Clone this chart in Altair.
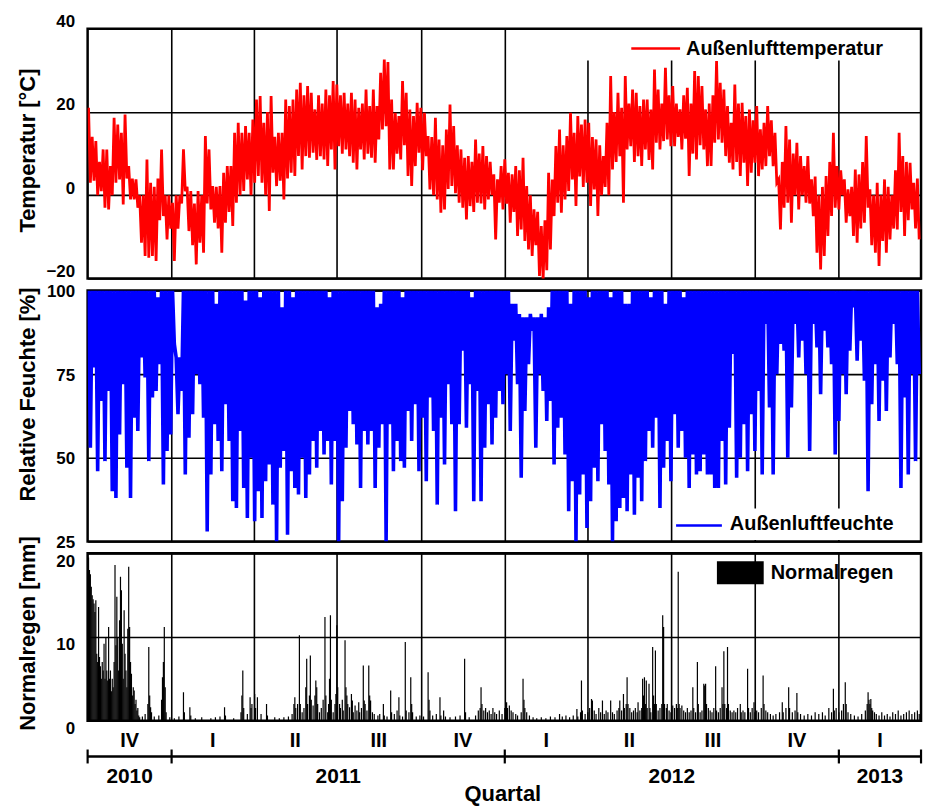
import altair as alt
import pandas as pd

FONT = "Liberation Sans"
STEP_DAYS = 4          # one high and one low reading per 4-day step
N_DAYS = 913           # 2010-10-01 .. 2013-03-31

# ---- Außenlufttemperatur [°C]: per 4-day step, upper and lower reading ----
temp_high = [
    21, 14, 13, 8, 11, 11, 7, 18.6, 17, 15,
    19.4, 7, 4, 3.8, 0, 0, 8.6, 3, 2, 4,
    11, 0, 0, -1.8, 0, 0, 11, 2, 1, -2,
    1, 0, 14.2, 11, 2.2, 2, 2.2, 5.4, 7, 7,
    15, 17.4, 15, 16.6, 15, 18.2, 23, 23.8, 17.4, 20,
    23.8, 14, 15, 15, 23, 21.4, 23, 25.4, 27, 24,
    26.2, 24.6, 20.6, 24, 22, 25.4, 24, 27.4, 26.6, 24,
    24.6, 22, 24.6, 23, 21, 22, 25.4, 21.4, 25.4, 21.4,
    29.4, 32.6, 32, 23, 19.8, 19, 27.4, 24.6, 20.6, 19,
    22.2, 21, 19.8, 14.2, 14, 18.6, 13.4, 12, 15.8, 21.8,
    16.6, 12, 11, 9, 9.4, 8, 13.4, 10, 11.8, 9.4,
    8, 5, 3.8, 7, 8.6, 5.4, 5, 7, 6, 9,
    2.2, 0, -3.4, -4, -7.4, -6, 5.4, 3.8, 11.8, 15.8,
    12, 14.2, 19.8, 15, 19, 17, 18.2, 17.4, 14, 13.4,
    12, 9.4, 17.4, 28.6, 20, 24.6, 21, 28.6, 22, 25.4,
    24.6, 21.4, 23, 23, 20.6, 30.2, 25.4, 22, 30.6, 24,
    26.2, 22, 20.6, 24, 25.8, 22, 29.8, 28.6, 26.2, 20.6,
    22, 24, 32.2, 27, 25.4, 21.4, 17.4, 26.6, 22, 22.2,
    19, 20.6, 18, 21.4, 15.8, 17.4, 21.4, 18, 15, 3.8,
    8, 16.6, 13.4, 10, 12.6, 9.4, 7, 9.4, 3.8, 4.5,
    0, 2, 4.6, 8, 15, 7, 6, 3.8, 1.4, 2,
    6.2, 5, 8, 14.2, 1.4, 0, 3, 0, 3.8, 2,
    0, 6, 15, 9.4, 8, 7.8, 3, 4,
]
temp_low = [
    3, 3.5, 0, 1, -3, -3.4, 0, 3, 3.8, -2.2,
    4, -1, -1, -3, -11.4, -14.6, -15, -14.6, -15.8, -6,
    -5, -10.6, -8, -15.8, -8, -2, 1, -8.6, -12, -16.6,
    -11.4, -13.8, -2, -3.4, -6.6, -8, -13.8, -6.6, -4, -7.4,
    -1.8, 0, 1, 3.8, 0, 3, 4.6, 3, 0, -3.8,
    5.4, 2.2, 3.5, -1, 4, 5.4, 4.6, 9.4, 6.2, 9.4,
    9, 10.2, 8.5, 9.4, 8.6, 7, 11, 6.2, 11.8, 10,
    11, 9.4, 7.8, 6.2, 11, 8.6, 10, 9, 7.8, 13.4,
    15.8, 16.6, 6.2, 6.2, 10, 8.6, 12, 4.6, 2.2, 7,
    10.2, 6, 9.4, 1.4, 0, -1, -4.2, -3.4, 1.5, 2.2,
    0.5, -1.8, -3, -5.8, -2.6, -4, -1.8, -2, -3.4, -1,
    0, -10.6, -1.8, -3.4, -2, -6.6, -4, -9.8, -8.2, -11,
    -13, -14.6, -12, -19.4, -20.2, -18, -13, -5, -1.8, -4.2,
    -1, 1, 3.8, -2.6, 4.5, 2, 3, -2.6, 1.4, -5,
    0, 2, 0, 6.2, 8, 9.4, -1.8, 11, 11.8, 8,
    9.4, 7, 11, 8.5, 6.2, 12.6, 11, 13, 13.4, 11.8,
    11.8, 14, 11, 13.6, 4.6, 10, 8.6, 12, 11, 7,
    7, 12.6, 13.4, 12.6, 9.4, 7.8, 6.2, 8, 4.6, 7.8,
    2.2, 5.4, 7.8, 4.6, 6.2, 7, 9.4, 7, 3, -8.2,
    -3, -1.8, -6.6, 0, -3.4, 0, -1.8, -2, -5, -13.8,
    -17.8, -14.6, -9.8, -5, -3, -3.4, 0, -6.6, -5, -9.8,
    -11.4, -8, -6.6, -3, -12, -13.8, -17, -11, -13.8, -10.6,
    -8, -8.2, -4, -9.8, -6, -3.4, -8, -10.6,
]

# ---- Außenluftfeuchte [%]: per 4-day step, upper and lower reading ----
hum_high = [
    100, 100, 100, 100, 100, 100, 100, 100, 100, 100,
    100, 100, 100, 100, 100, 100, 100, 100, 100, 98,
    100, 100, 100, 100, 80, 80, 100, 100, 100, 100,
    100, 100, 100, 100, 100, 96, 100, 100, 100, 100,
    100, 100, 100, 97, 100, 100, 100, 98, 100, 100,
    100, 100, 100, 95, 100, 100, 98, 100, 100, 100,
    100, 100, 100, 100, 100, 100, 98, 100, 100, 100,
    100, 100, 100, 100, 100, 100, 100, 100, 100, 95,
    96, 100, 100, 100, 100, 100, 98, 100, 100, 100,
    100, 100, 100, 100, 100, 100, 100, 100, 100, 100,
    100, 100, 100, 100, 100, 98, 100, 100, 100, 100,
    100, 100, 100, 100, 100, 100, 96, 96, 93, 92,
    92, 93, 92, 92, 93, 92, 95, 100, 100, 100,
    100, 100, 96, 100, 100, 100, 100, 98, 100, 100,
    100, 100, 100, 98, 100, 100, 100, 96, 96, 100,
    100, 100, 100, 100, 98, 100, 100, 100, 96, 100,
    100, 100, 100, 98, 100, 100, 100, 100, 100, 100,
    100, 100, 100, 100, 100, 100, 100, 100, 100, 100,
    100, 100, 100, 100, 100, 100, 100, 100, 100, 100,
    100, 100, 100, 100, 100, 100, 100, 100, 100, 100,
    100, 100, 100, 100, 100, 100, 100, 100, 100, 100,
    100, 100, 100, 100, 100, 100, 100, 100, 100, 100,
    100, 100, 100, 100, 100, 100, 100, 100,
]
hum_low = [
    53, 77, 46, 67, 49, 70, 40, 38, 57, 72,
    47, 38, 62, 58, 80, 74, 49, 68, 70, 78,
    42, 52, 57, 84, 63, 70, 45, 56, 63, 75,
    72, 62, 28, 45, 60, 55, 46, 66, 55, 37,
    35, 58, 41, 32, 50, 31, 40, 32, 43, 48,
    36, 25, 47, 52, 27, 46, 41, 39, 50, 38,
    45, 55, 47, 58, 51, 55, 42, 55, 25, 37,
    53, 64, 60, 54, 41, 58, 54, 58, 41, 53,
    60, 25, 60, 46, 55, 49, 47, 64, 55, 66,
    46, 62, 43, 68, 58, 36, 62, 48, 72, 60,
    34, 60, 82, 59, 72, 37, 70, 37, 53, 66,
    54, 62, 70, 66, 75, 58, 85, 72, 44, 64,
    78, 88, 53, 75, 70, 61, 67, 48, 59, 62,
    51, 34, 43, 25, 39, 45, 29, 37, 47, 43,
    60, 52, 42, 25, 31, 35, 38, 34, 45, 33,
    44, 37, 49, 58, 53, 62, 35, 47, 55, 43,
    63, 53, 58, 50, 41, 51, 45, 46, 51, 45,
    45, 41, 41, 55, 42, 59, 81, 44, 50, 60,
    46, 63, 52, 70, 45, 90, 65, 45, 75, 84,
    82, 50, 65, 90, 80, 85, 75, 52, 90, 83,
    69, 88, 83, 78, 51, 61, 75, 69, 82, 95,
    79, 85, 73, 40, 66, 78, 61, 73, 64, 80,
    90, 78, 41, 68, 45, 75, 49, 75,
]

# ---- Normalregen [mm]: (day since 2010-10-01, amount) ----
rain_events = [
    (0, 20), (1, 19.5), (2, 18), (3, 17.5), (4, 16), (5, 15), (6, 14.5), (7, 14), (8, 13), (9, 14.4),
    (10, 8), (11, 7), (12, 13.6), (13, 7.6), (14, 6.5), (15, 5), (16, 7), (17, 6), (18, 9.2), (19, 5),
    (20, 10), (21, 6), (22, 4.8), (23, 11.2), (24, 5), (25, 6), (26, 3.5), (27, 5), (28, 4), (29, 7),
    (30, 18.6), (31, 9), (32, 14.8), (33, 10), (34, 6), (35, 12), (36, 17.2), (37, 15.6), (38, 9.2), (39, 5),
    (40, 13.2), (41, 8), (42, 6), (43, 4), (44, 11), (45, 18.4), (46, 11.2), (47, 7), (48, 5.6), (49, 3),
    (50, 4), (51, 3.6), (52, 2), (53, 2.5), (54, 1.2), (55, 1.5), (56, 0.6), (57, 0.4),
    (60, 0.5), (63, 0.8), (66, 2), (67, 8.8), (68, 3), (69, 1.6), (70, 1), (73, 0.5), (78, 0.6),
    (81, 2.5), (82, 5.2), (83, 7), (84, 11.2), (85, 4), (86, 1), (90, 0.4), (95, 0.3), (100, 0.5),
    (105, 3.4), (106, 1), (112, 1.6), (113, 0.6), (118, 0.3), (125, 0.4), (135, 0.3), (140, 0.4),
    (145, 0.5), (150, 1.6), (151, 0.6), (160, 0.3), (168, 1), (169, 3), (170, 6), (171, 1.5),
    (175, 0.8), (178, 2.8), (179, 1.5), (180, 2), (183, 3.2), (184, 1.5), (186, 2.8), (190, 0.8),
    (196, 2), (197, 0.6), (205, 0.4), (210, 0.3), (215, 0.4), (220, 0.5), (224, 0.8), (226, 2),
    (227, 2.8), (228, 1.5), (230, 2), (232, 10.2), (233, 2), (235, 1), (237, 1.5), (239, 4),
    (240, 7.4), (241, 2), (243, 3), (244, 7.8), (245, 2.5), (247, 1.8), (249, 3), (250, 4.8),
    (251, 4), (252, 2), (254, 1), (256, 1.5), (258, 2.5), (260, 12.4), (261, 3), (263, 1), (264, 2),
    (265, 5), (266, 12.6), (267, 2.5), (269, 1), (271, 2), (272, 3.2), (273, 11.4), (274, 4),
    (276, 2), (277, 1.5), (279, 2.5), (280, 1.2), (282, 9.6), (283, 4), (284, 3), (285, 2),
    (287, 1.6), (289, 3.2), (290, 2.4), (291, 1), (293, 1.8), (295, 1.2), (297, 2.2), (298, 1),
    (300, 1.5), (302, 6.6), (303, 2.4), (304, 2), (306, 1.2), (308, 6.6), (309, 3), (310, 2.4),
    (312, 1), (314, 0.8), (318, 0.6), (320, 0.8), (324, 2), (325, 0.6), (328, 0.5), (332, 3.6),
    (333, 1), (336, 0.8), (339, 1.2), (341, 2.8), (342, 0.6), (345, 0.5), (348, 9.4), (349, 1.2),
    (352, 1), (354, 5.2), (355, 2), (356, 1), (360, 0.5), (364, 0.6), (368, 0.5), (373, 5.8),
    (374, 2.5), (375, 1.2), (378, 0.6), (382, 0.8), (386, 2.8), (387, 0.6), (390, 1.2), (392, 0.5),
    (397, 0.4), (403, 0.5), (408, 0.6), (413, 7.4), (414, 1), (418, 0.4), (425, 0.6), (428, 1.2),
    (430, 1.5), (431, 4), (432, 2), (434, 1.2), (436, 1.5), (438, 1), (440, 1.2), (442, 0.8),
    (444, 1.5), (446, 1), (448, 0.8), (451, 1.2), (454, 0.8), (457, 1.5), (459, 2.2), (460, 1.5),
    (462, 1.8), (464, 1.2), (466, 1), (469, 0.8), (471, 0.6), (475, 1), (477, 5), (478, 2.5),
    (479, 1.5), (481, 1), (484, 0.6), (488, 0.4), (492, 0.3), (497, 0.4), (502, 0.3), (507, 0.5),
    (512, 0.4), (517, 0.8), (520, 0.5), (524, 0.6), (528, 0.4), (532, 0.6), (536, 1.4), (537, 0.5),
    (540, 1), (541, 4.8), (542, 1.2), (545, 0.8), (548, 1), (550, 1.5), (552, 2.6), (553, 2.4),
    (555, 1.2), (557, 0.8), (560, 1.5), (562, 1), (564, 2.4), (566, 0.8), (568, 1.2), (570, 1),
    (573, 2.4), (575, 1), (577, 0.8), (580, 1.2), (582, 1.5), (583, 2.4), (585, 1.2), (587, 3.2),
    (588, 1.5), (590, 2), (591, 5.2), (592, 2), (594, 1.5), (596, 1), (598, 1.2), (600, 1.5),
    (602, 1), (603, 2.2), (605, 1.2), (607, 1.5), (608, 5), (609, 3), (610, 5.2), (611, 2),
    (612, 4.8), (613, 1.5), (615, 4.4), (616, 1.5), (617, 1), (619, 8.8), (620, 3), (621, 2),
    (622, 8.4), (623, 2), (625, 1.2), (627, 1.5), (629, 2), (630, 12.6), (631, 11.2), (632, 2),
    (634, 1.5), (635, 2), (637, 1.2), (639, 1), (641, 1.8), (643, 1.5), (645, 2), (646, 1.5),
    (647, 17.8), (648, 2), (649, 1.5), (651, 1.8), (653, 1.2), (655, 1), (657, 1.5), (659, 1),
    (661, 1.2), (663, 4), (664, 1.5), (666, 1), (668, 7), (669, 2), (671, 1), (673, 1.2),
    (675, 4.4), (676, 4.2), (677, 4.4), (678, 2), (680, 1.5), (682, 1.2), (684, 1), (686, 1.5),
    (688, 6.5), (689, 1.2), (691, 1), (693, 1.5), (695, 4), (696, 2), (697, 8.3), (698, 2),
    (700, 1.5), (701, 8.8), (702, 2), (704, 1.2), (706, 1), (708, 1.2), (710, 1), (712, 1.5),
    (715, 2), (716, 1), (718, 1.2), (720, 1), (723, 6.2), (724, 1.5), (726, 1), (728, 1.5),
    (730, 2.2), (731, 1), (733, 1.2), (735, 1), (738, 1.5), (740, 5.4), (741, 2), (743, 1.2),
    (745, 1), (748, 0.8), (751, 0.6), (754, 0.8), (758, 1), (761, 2.2), (762, 1), (765, 1.5),
    (768, 4), (769, 1.5), (772, 1), (775, 1.2), (777, 3.3), (778, 1), (781, 0.8), (785, 0.6),
    (789, 0.8), (793, 0.6), (797, 1), (801, 0.8), (805, 1), (808, 0.6), (812, 1.5), (815, 1),
    (817, 3.8), (818, 1.2), (820, 1.5), (823, 1), (826, 1.2), (828, 2), (830, 4.6), (831, 2),
    (833, 1), (836, 0.8), (840, 0.6), (844, 0.5), (848, 0.8), (852, 1.2), (854, 2), (855, 3.4),
    (856, 2.5), (857, 2), (858, 2.6), (859, 1.5), (860, 1.2), (862, 1), (864, 0.8), (867, 0.6),
    (870, 1), (873, 0.6), (876, 0.8), (879, 0.5), (882, 1), (885, 0.8), (888, 1.2), (891, 0.6),
    (894, 0.8), (897, 1), (900, 1.2), (903, 0.8), (906, 1), (909, 1.2), (911, 0.8),
]

# ---- time axis: quarter and year boundaries (days since 2010-10-01) ----
quarter_starts = [0, 92, 182, 273, 365, 457, 548, 639, 731, 823, 913]
quarter_labels = ["IV", "I", "II", "III", "IV", "I", "II", "III", "IV", "I"]
year_bounds = [0, 92, 457, 823, 913]
year_labels = ["2010", "2011", "2012", "2013"]

temp_ticks = [-20, 0, 20, 40]
hum_ticks = [25, 50, 75, 100]
rain_ticks = [0, 10, 20]


def zigzag(highs, lows):
    rows = []
    for k, (h, l) in enumerate(zip(highs, lows)):
        rows.append({"day": k * STEP_DAYS + 1, "v": h})
        rows.append({"day": k * STEP_DAYS + 3, "v": l})
    return pd.DataFrame(rows)


temp_df = zigzag(temp_high, temp_low)
hum_df = zigzag(hum_high, hum_low)
rain_df = pd.DataFrame(rain_events, columns=["day", "mm"])
q_df = pd.DataFrame({
    "mid": [(a + b) / 2 for a, b in zip(quarter_starts[:-1], quarter_starts[1:])],
    "label": quarter_labels,
})
y_df = pd.DataFrame({
    "mid": [(a + b) / 2 for a, b in zip(year_bounds[:-1], year_bounds[1:])],
    "label": year_labels,
})
yb_df = pd.DataFrame({"b": year_bounds})

W = 837
x_scale = alt.Scale(domain=[0, N_DAYS], nice=False, zero=False)


def x_enc(field):
    return alt.X(
        f"{field}:Q", scale=x_scale,
        axis=alt.Axis(values=quarter_starts[1:-1], grid=True, gridColor="black",
                      gridWidth=1.6, gridOpacity=1, labels=False, ticks=False,
                      domain=False, title=None),
    )


def y_axis(ticks, title, baseline, title_y, offset=0):
    return alt.Axis(
        values=ticks, grid=True, gridColor="black", gridWidth=1.6, gridOpacity=1,
        ticks=False, domain=False, labelFont=FONT, labelFontSize=17,
        labelFontWeight="bold", labelColor="black", labelPadding=13,
        labelBaseline=baseline, labelOffset=offset, title=title, titleFont=FONT,
        titleFontSize=22, titleFontWeight="bold", titleColor="black", titleAngle=270,
        titleAlign="center", titleBaseline="middle", titleX=-60, titleY=title_y,
    )


def one(**kw):
    return alt.Data(values=[kw if kw else {"a": 1}])


def legend_text(label, x, y):
    return alt.Chart(one(t=label)).mark_text(
        align="left", baseline="middle", font=FONT, fontSize=20,
        fontWeight="bold", color="black",
    ).encode(x=alt.value(x), y=alt.value(y), text="t:N")


# white corner marks that pin the page size (928 x 807) and origin
pin_tl = alt.Chart(one()).mark_rect(color="white").encode(
    x=alt.value(-86), x2=alt.value(-85), y=alt.value(-25), y2=alt.value(-24))

# ---- panel 1: temperature ----
temp_line = alt.Chart(temp_df).mark_line(color="#ff0000", strokeWidth=2.8, clip=True).encode(
    x=x_enc("day"),
    y=alt.Y("v:Q", scale=alt.Scale(domain=[-20, 40], nice=False, zero=False),
            axis=y_axis(temp_ticks, "Temperatur [°C]", "alphabetic", 122, -2)),
)
temp_box = alt.Chart(one()).mark_rect(color="white").encode(
    x=alt.value(489), x2=alt.value(833), y=alt.value(1.5), y2=alt.value(32))
temp_leg = alt.Chart(one()).mark_rule(color="#ff0000", strokeWidth=2.5).encode(
    x=alt.value(546), x2=alt.value(595), y=alt.value(20))
p1 = alt.layer(temp_line, temp_box, temp_leg,
               legend_text("Außenlufttemperatur", 601, 20), pin_tl).properties(width=W, height=251)

# ---- panel 2: humidity ----
hum_line = alt.Chart(hum_df).mark_line(color="#0000ff", strokeWidth=3.6, clip=True).encode(
    x=x_enc("day"),
    y=alt.Y("v:Q", scale=alt.Scale(domain=[25, 100], nice=False, zero=False),
            axis=y_axis(hum_ticks, "Relative Feuchte [%]", "middle", 104, 1)),
)
hum_box = alt.Chart(one()).mark_rect(color="white").encode(
    x=alt.value(589), x2=alt.value(833), y=alt.value(219), y2=alt.value(250.5))
hum_leg = alt.Chart(one()).mark_rule(color="#0000ff", strokeWidth=2.5).encode(
    x=alt.value(591), x2=alt.value(637), y=alt.value(236))
p2 = alt.layer(hum_line, hum_box, hum_leg,
               legend_text("Außenluftfeuchte", 645, 235)).properties(width=W, height=252)

# ---- panel 3: rain ----
rain_bars = alt.Chart(rain_df).mark_rule(color="black", strokeWidth=1.2, clip=True).encode(
    x=x_enc("day"),
    y=alt.Y("mm:Q", scale=alt.Scale(domain=[0, 20], nice=False, zero=False),
            axis=y_axis(rain_ticks, "Normalregen [mm]", "top", 80)),
    y2=alt.datum(0),
)
rain_leg = alt.Chart(one()).mark_rect(color="black").encode(
    x=alt.value(632), x2=alt.value(679), y=alt.value(8), y2=alt.value(31))
p3 = alt.layer(rain_bars, rain_leg,
               legend_text("Normalregen", 686, 20)).properties(width=W, height=168)

# ---- panel 4: quarter / year axis ----
noaxis = dict(scale=x_scale, axis=None)
q_text = alt.Chart(q_df).mark_text(font=FONT, fontSize=20, fontWeight="bold", color="black",
                                   baseline="middle").encode(
    x=alt.X("mid:Q", **noaxis), y=alt.value(8), text="label:N")
yr_line = alt.Chart(one(s=year_bounds[0], e=year_bounds[-1])).mark_rule(
    color="black", strokeWidth=2.5).encode(
    x=alt.X("s:Q", **noaxis), x2="e:Q", y=alt.value(24))
yr_ticks = alt.Chart(yb_df).mark_rule(color="black", strokeWidth=2.2).encode(
    x=alt.X("b:Q", **noaxis), y=alt.value(17), y2=alt.value(31))
yr_text = alt.Chart(y_df).mark_text(font=FONT, fontSize=21, fontWeight="bold", color="black",
                                    baseline="middle").encode(
    x=alt.X("mid:Q", **noaxis), y=alt.value(45), text="label:N")
quartal = alt.Chart(one(t="Quartal")).mark_text(
    font=FONT, fontSize=22, fontWeight="bold", color="black", baseline="middle").encode(
    x=alt.value(417), y=alt.value(62), text="t:N")
pin_br = alt.Chart(one()).mark_rect(color="white").encode(
    x=alt.value(W + 4), x2=alt.value(W + 5), y=alt.value(74), y2=alt.value(75))
p4 = alt.layer(q_text, yr_line, yr_ticks, yr_text, quartal, pin_br).properties(
    width=W, height=75, view=alt.ViewBackground(stroke="transparent"))

chart = alt.vconcat(p1, p2, p3, p4, spacing=12, bounds="flush").properties(
    padding=0, background="white",
).configure_view(stroke="black", strokeWidth=2.5)

chart.save("out.html", embed_options={"renderer": "svg", "actions": False})
